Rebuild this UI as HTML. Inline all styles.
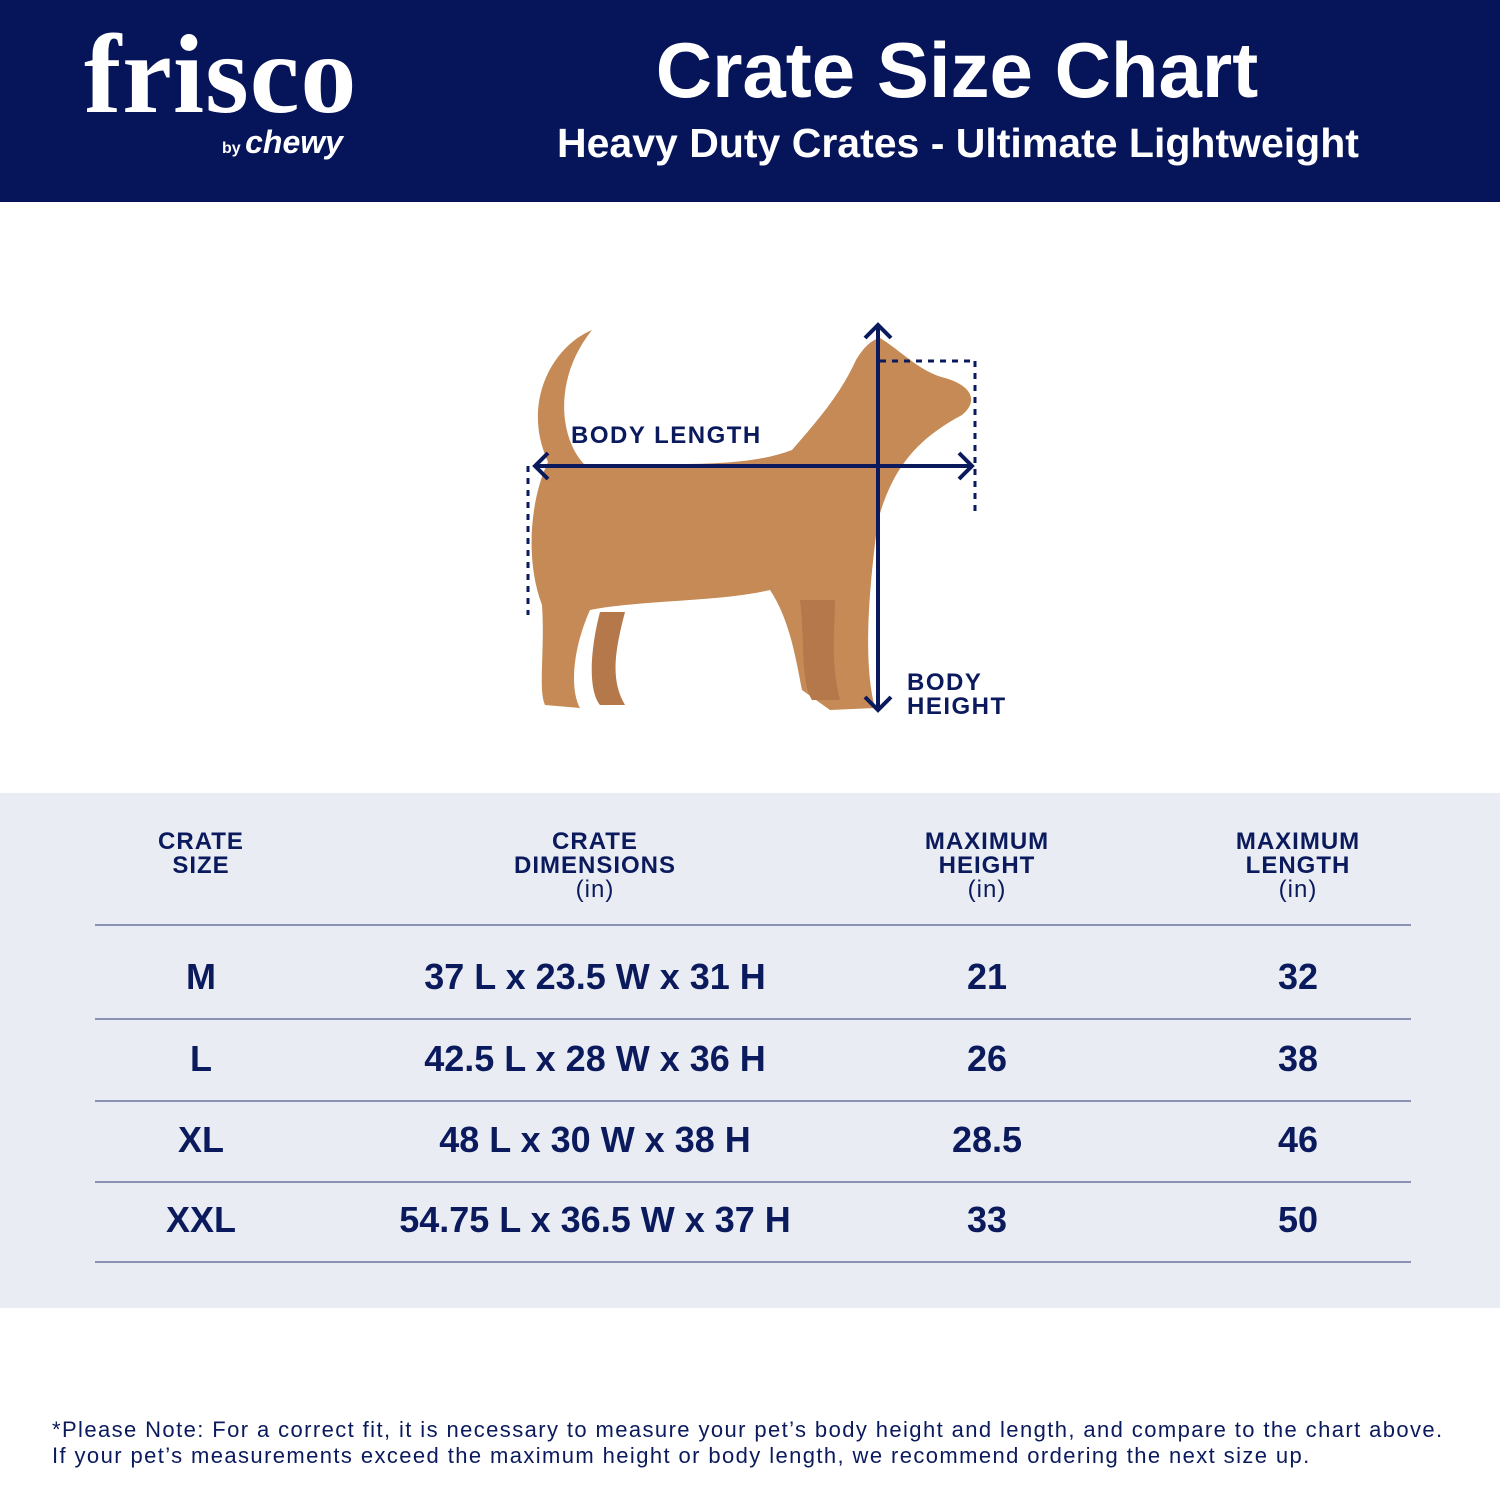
<!DOCTYPE html>
<html><head><style>
body{margin:0;width:1500px;height:1500px;background:#fff;position:relative;overflow:hidden;font-family:"Liberation Sans",sans-serif;color:#0a1a5c}
.hdr{position:absolute;left:0;top:0;width:1500px;height:202px;background:#06145a}
.t{position:absolute;white-space:nowrap;text-align:center}
.gray{position:absolute;left:0;top:793px;width:1500px;height:515px;background:#e9ecf3}
.line{position:absolute;left:95px;width:1316px;height:2px;background:#8a93b3}
.h{font-weight:bold;font-size:24px;line-height:24px;letter-spacing:1px}
.h span{font-weight:normal}
.c{font-weight:bold;font-size:36px}
</style></head><body>
<div class="hdr">
<div class="t" style="left:84px;top:20px;font-family:'Liberation Serif',serif;font-weight:bold;font-size:112px;color:#fff;line-height:110px;letter-spacing:1px">frisco</div>
<div class="t" style="left:222px;top:124px;color:#fff;font-size:16px;font-weight:bold">by <span style="font-size:32px;font-style:italic">chewy</span></div>
<div class="t" style="left:557px;width:800px;top:28px;color:#fff;font-weight:bold;font-size:78px;line-height:84px">Crate Size Chart</div>
<div class="t" style="left:557px;width:800px;top:120px;color:#fff;font-weight:bold;font-size:41px;line-height:46px">Heavy Duty Crates - Ultimate Lightweight</div>
</div>
<svg style="position:absolute;left:0;top:0" width="1500" height="800">
<path d="M592 330 C555 345 520 400 548 462 C530 500 525 560 542 605 C545 650 538 690 545 705 L580 708 C570 690 572 650 590 610 C640 600 720 602 770 590 C790 620 796 660 802 690 L830 710 L875 708 C862 660 870 580 878 520 C892 470 915 440 962 415 C980 400 970 385 945 378 C920 372 900 350 880 338 C870 340 862 350 856 360 C840 395 818 420 792 450 C740 470 660 462 585 465 C560 440 552 380 592 330Z" fill="#c58a55"/>
<path d="M600 612 C590 650 588 690 600 705 L625 705 C610 680 615 650 625 612Z M800 600 C805 640 800 680 812 700 L840 700 C830 660 835 630 835 600Z" fill="#b5784a"/>
<g stroke="#0a1a5c" stroke-width="4" fill="none">
<line x1="535" y1="466" x2="972" y2="466"/><polyline points="548,453 535,466 548,479"/><polyline points="959,453 972,466 959,479"/>
<line x1="878" y1="325" x2="878" y2="710"/><polyline points="865,338 878,325 891,338"/><polyline points="865,697 878,710 891,697"/>
</g>
<g stroke="#0a1a5c" stroke-width="3" stroke-dasharray="6,6" fill="none">
<line x1="528" y1="466" x2="528" y2="615"/><line x1="880" y1="361" x2="975" y2="361"/><line x1="975" y1="361" x2="975" y2="515"/>
</g>
<text x="571" y="443" font-family="Liberation Sans" font-weight="bold" font-size="24" fill="#0a1a5c" letter-spacing="1.5">BODY LENGTH</text>
<text x="907" y="690" font-family="Liberation Sans" font-weight="bold" font-size="24" fill="#0a1a5c" letter-spacing="1.5">BODY</text>
<text x="907" y="714" font-family="Liberation Sans" font-weight="bold" font-size="24" fill="#0a1a5c" letter-spacing="1.5">HEIGHT</text>
</svg>
<div class="gray"></div>
<div class="t h" style="left:101px;width:200px;top:830px">CRATE<br>SIZE</div>
<div class="t h" style="left:445px;width:300px;top:830px">CRATE<br>DIMENSIONS<br><span>(in)</span></div>
<div class="t h" style="left:837px;width:300px;top:830px">MAXIMUM<br>HEIGHT<br><span>(in)</span></div>
<div class="t h" style="left:1148px;width:300px;top:830px">MAXIMUM<br>LENGTH<br><span>(in)</span></div>
<div class="line" style="top:924px"></div>
<div class="line" style="top:1018px"></div>
<div class="line" style="top:1100px"></div>
<div class="line" style="top:1181px"></div>
<div class="line" style="top:1261px"></div>
<div class="t c" style="left:101px;width:200px;top:956px">M</div>
<div class="t c" style="left:345px;width:500px;top:956px">37 L x 23.5 W x 31 H</div>
<div class="t c" style="left:887px;width:200px;top:956px">21</div>
<div class="t c" style="left:1198px;width:200px;top:956px">32</div>
<div class="t c" style="left:101px;width:200px;top:1038px">L</div>
<div class="t c" style="left:345px;width:500px;top:1038px">42.5 L x 28 W x 36 H</div>
<div class="t c" style="left:887px;width:200px;top:1038px">26</div>
<div class="t c" style="left:1198px;width:200px;top:1038px">38</div>
<div class="t c" style="left:101px;width:200px;top:1119px">XL</div>
<div class="t c" style="left:345px;width:500px;top:1119px">48 L x 30 W x 38 H</div>
<div class="t c" style="left:887px;width:200px;top:1119px">28.5</div>
<div class="t c" style="left:1198px;width:200px;top:1119px">46</div>
<div class="t c" style="left:101px;width:200px;top:1199px">XXL</div>
<div class="t c" style="left:345px;width:500px;top:1199px">54.75 L x 36.5 W x 37 H</div>
<div class="t c" style="left:887px;width:200px;top:1199px">33</div>
<div class="t c" style="left:1198px;width:200px;top:1199px">50</div>
<div class="t" style="left:52px;top:1417px;text-align:left;font-size:22px;line-height:26px;letter-spacing:1.4px">*Please Note: For a correct fit, it is necessary to measure your pet’s body height and length, and compare to the chart above.<br>If your pet’s measurements exceed the maximum height or body length, we recommend ordering the next size up.</div>
</body></html>
